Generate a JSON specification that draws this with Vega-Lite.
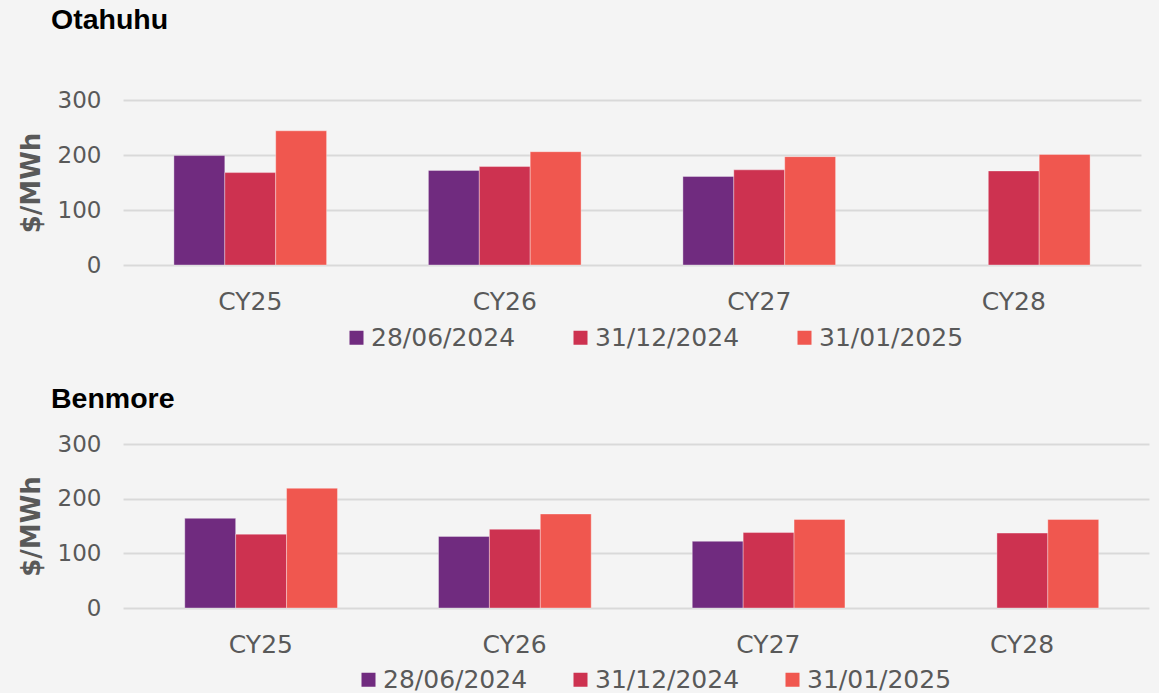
{
  "$schema": "https://vega.github.io/schema/vega-lite/v6.json",
  "background": "#f4f4f4",
  "padding": {"left": 18, "top": 5, "right": 10, "bottom": 0},
  "config": {
    "view": {"stroke": null},
    "font": "DejaVu Sans",
    "axisX": {"domain": false, "ticks": false, "grid": false, "labelFontSize": 25, "labelColor": "#595959", "labelPadding": 24, "labelAngle": 0, "title": null},
    "axisY": {"domain": false, "ticks": false, "grid": true, "gridColor": "#d9d9d9", "gridWidth": 2, "labelFontSize": 23, "labelColor": "#595959", "labelPadding": 22, "titleFontSize": 26, "titleFontWeight": "bold", "titleColor": "#595959", "titlePadding": 13},
    "legend": {"orient": "none", "direction": "horizontal", "title": null, "symbolType": "square", "symbolSize": 196, "symbolStrokeWidth": 0, "labelFontSize": 25, "labelColor": "#595959", "labelOffset": 2, "columnPadding": 52},
    "title": {"anchor": "start", "frame": "group", "font": "Liberation Sans", "fontSize": 28.5, "fontWeight": "bold", "color": "#000000"}
  },
  "datasets": {
    "otahuhu": [
      {"year": "CY25", "date": "28/06/2024", "value": 199},
      {"year": "CY25", "date": "31/12/2024", "value": 168},
      {"year": "CY25", "date": "31/01/2025", "value": 244},
      {"year": "CY26", "date": "28/06/2024", "value": 172},
      {"year": "CY26", "date": "31/12/2024", "value": 179},
      {"year": "CY26", "date": "31/01/2025", "value": 206},
      {"year": "CY27", "date": "28/06/2024", "value": 161},
      {"year": "CY27", "date": "31/12/2024", "value": 173},
      {"year": "CY27", "date": "31/01/2025", "value": 197},
      {"year": "CY28", "date": "31/12/2024", "value": 171},
      {"year": "CY28", "date": "31/01/2025", "value": 201}
    ],
    "benmore": [
      {"year": "CY25", "date": "28/06/2024", "value": 164},
      {"year": "CY25", "date": "31/12/2024", "value": 135},
      {"year": "CY25", "date": "31/01/2025", "value": 219},
      {"year": "CY26", "date": "28/06/2024", "value": 131},
      {"year": "CY26", "date": "31/12/2024", "value": 144},
      {"year": "CY26", "date": "31/01/2025", "value": 172},
      {"year": "CY27", "date": "28/06/2024", "value": 122},
      {"year": "CY27", "date": "31/12/2024", "value": 138},
      {"year": "CY27", "date": "31/01/2025", "value": 162},
      {"year": "CY28", "date": "31/12/2024", "value": 137},
      {"year": "CY28", "date": "31/01/2025", "value": 162}
    ]
  },
  "spacing": 33,
  "resolve": {"scale": {"color": "independent"}, "legend": {"color": "independent"}},
  "vconcat": [
    {
      "title": {"text": "Otahuhu", "dx": -72, "offset": 55},
      "width": 1018,
      "height": 165,
      "data": {"name": "otahuhu"},
      "mark": {"type": "bar", "stroke": "#ffffff", "strokeOpacity": 0.35, "strokeWidth": 1},
      "encoding": {
        "x": {"field": "year", "type": "nominal", "sort": ["CY25", "CY26", "CY27", "CY28"], "scale": {"paddingInner": 0.4, "paddingOuter": 0.2}},
        "xOffset": {"field": "date", "type": "nominal", "scale": {"domain": ["28/06/2024", "31/12/2024", "31/01/2025"]}},
        "y": {"field": "value", "type": "quantitative", "scale": {"domain": [0, 300]}, "axis": {"title": "$/MWh", "values": [0, 100, 200, 300]}},
        "color": {"field": "date", "type": "nominal", "scale": {"domain": ["28/06/2024", "31/12/2024", "31/01/2025"], "range": ["#702b7f", "#cd3250", "#f0574f"]}, "legend": {"legendX": 221, "legendY": 225}}
      }
    },
    {
      "title": {"text": "Benmore", "dx": -72, "offset": 20},
      "width": 1026,
      "height": 164,
      "data": {"name": "benmore"},
      "mark": {"type": "bar", "stroke": "#ffffff", "strokeOpacity": 0.35, "strokeWidth": 1},
      "encoding": {
        "x": {"field": "year", "type": "nominal", "sort": ["CY25", "CY26", "CY27", "CY28"], "scale": {"paddingInner": 0.4, "paddingOuter": 0.2217, "align": 0.549}},
        "xOffset": {"field": "date", "type": "nominal", "scale": {"domain": ["28/06/2024", "31/12/2024", "31/01/2025"]}},
        "y": {"field": "value", "type": "quantitative", "scale": {"domain": [0, 300]}, "axis": {"title": "$/MWh", "values": [0, 100, 200, 300]}},
        "color": {"field": "date", "type": "nominal", "scale": {"domain": ["28/06/2024", "31/12/2024", "31/01/2025"], "range": ["#702b7f", "#cd3250", "#f0574f"]}, "legend": {"legendX": 233, "legendY": 223, "columnPadding": 40}}
      }
    }
  ]
}
